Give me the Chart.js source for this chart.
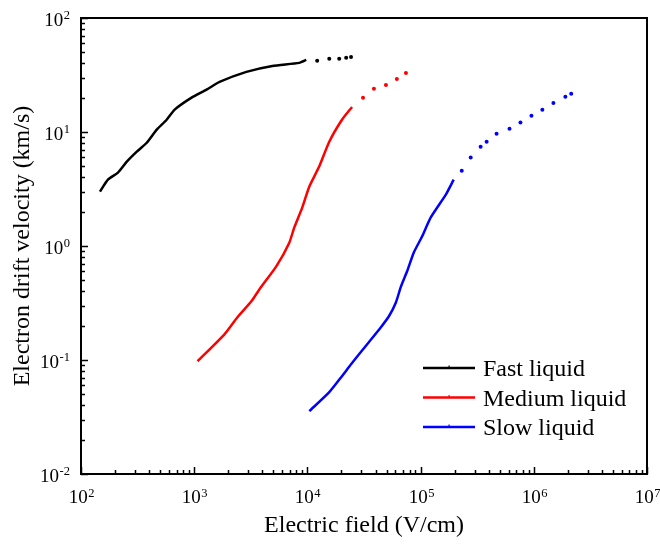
<!DOCTYPE html>
<html>
<head>
<meta charset="utf-8">
<script src="https://cdn.jsdelivr.net/npm/chart.js@4.4.1/dist/chart.umd.min.js"></script>
<style>
  html, body { margin: 0; padding: 0; background: #fff; }
</style>
</head>
<body>
<canvas id="chart" width="660" height="544"></canvas>
<script>
// Electric field (V/cm) and drift velocity (km/s), continuous traces
const fastE = [147, 173, 212, 254, 311, 381, 467, 571, 672, 948, 1285, 1675, 2890, 4900, 8470, 9770];
const fastV = [3.0, 3.82, 4.4, 5.49, 6.72, 8.05, 10.5, 12.8, 15.7, 20.0, 23.5, 27.5, 33.7, 38.0, 40.4, 42.9];
const mediumE = [1070, 1850, 2410, 3200, 3760, 5310, 6920, 7650, 9000, 10400, 12700, 15600, 20200, 24800];
const mediumV = [0.0975, 0.168, 0.237, 0.327, 0.416, 0.662, 1.07, 1.45, 2.17, 3.32, 4.97, 8.22, 12.8, 16.6];
const slowE = [10400, 15600, 20200, 24300, 33600, 44600, 52500, 60500, 67000, 76000, 87100, 103000, 123000, 167000, 196000];
const slowV = [0.0356, 0.0522, 0.0721, 0.0918, 0.137, 0.194, 0.242, 0.32, 0.44, 0.6, 0.877, 1.21, 1.78, 2.82, 3.82];

// sparse high-field points
const fastDotsE = [12200, 15600, 19100, 22000, 24300];
const fastDotsV = [42.1, 43.8, 43.8, 44.7, 45.6];
const mediumDotsE = [31000, 38700, 49400, 61700, 74200];
const mediumDotsV = [20.0, 23.9, 25.9, 29.2, 33.0];
const slowDotsE = [231000, 277000, 339000, 383000, 469000, 610000, 762000, 953000, 1190000, 1490000, 1900000, 2140000];
const slowDotsV = [4.58, 5.96, 7.43, 8.22, 9.66, 10.7, 12.1, 13.9, 15.7, 18.0, 20.4, 21.6];

const seriesNames = ['Fast liquid', 'Medium liquid', 'Slow liquid'];
const seriesColors = ['#000000', '#ff0000', '#0000ff'];

const xRange = [1e2, 1e7];
const yRange = [1e-2, 1e2];

const SERIF = '"Liberation Serif", "Times New Roman", serif';

const isDecade = v => Math.abs(Math.log10(v) - Math.round(Math.log10(v))) < 1e-9;

// 1..9 x 10^n ticks between the axis limits
function logTicks(min, max) {
  const out = [];
  for (let e = Math.round(Math.log10(min)); e < Math.round(Math.log10(max)); e++) {
    for (let m = 1; m <= 9; m++) out.push({ value: m * Math.pow(10, e) });
  }
  out.push({ value: max });
  return out;
}

// "10" with a raised exponent; align is 'center' or 'right'
function powerText(ctx, exp, x, baseline, align) {
  ctx.font = '19px ' + SERIF;
  const wb = ctx.measureText('10').width;
  ctx.font = '12.5px ' + SERIF;
  const es = String(exp);
  const we = ctx.measureText(es).width;
  const total = wb + we + 0.5;
  const x0 = align === 'right' ? x - total : x - total / 2;
  ctx.textAlign = 'left';
  ctx.textBaseline = 'alphabetic';
  ctx.font = '19px ' + SERIF;
  ctx.fillText('10', x0, baseline);
  ctx.font = '12.5px ' + SERIF;
  ctx.fillText(es, x0 + wb + 0.5, baseline - 6.5);
}

const pts = (xs, ys) => xs.map((x, i) => ({ x, y: ys[i] }));

const traces = [[fastE, fastV], [mediumE, mediumV], [slowE, slowV]];
const dots = [[fastDotsE, fastDotsV], [mediumDotsE, mediumDotsV], [slowDotsE, slowDotsV]];

const datasets = [];
seriesNames.forEach((name, i) => {
  datasets.push({
    label: name,
    data: pts(traces[i][0], traces[i][1]),
    borderColor: seriesColors[i],
    backgroundColor: seriesColors[i],
    borderWidth: 2.5,
    pointRadius: 0,
    tension: 0.2
  });
  datasets.push({
    label: name + ' (sparse)',
    data: pts(dots[i][0], dots[i][1]),
    showLine: false,
    pointRadius: 2,
    pointBorderWidth: 0,
    pointBackgroundColor: seriesColors[i],
    borderColor: seriesColors[i]
  });
});

// box frame, inward tick marks, power-of-ten labels and the legend
const frameAndLegend = {
  id: 'frameAndLegend',
  afterDatasetsDraw(chart) {
    const { ctx, chartArea: a, scales: { x, y } } = chart;
    ctx.save();
    ctx.strokeStyle = '#000';
    ctx.fillStyle = '#000';
    ctx.lineWidth = 1.5;
    x.ticks.forEach(t => {
      const px = Math.round(x.getPixelForValue(t.value)) + 0.5;
      const len = isDecade(t.value) ? 7 : 4;
      ctx.beginPath();
      ctx.moveTo(px, a.bottom);
      ctx.lineTo(px, a.bottom - len);
      ctx.stroke();
      if (isDecade(t.value)) powerText(ctx, Math.round(Math.log10(t.value)), px, a.bottom + 29, 'center');
    });
    y.ticks.forEach(t => {
      const py = Math.round(y.getPixelForValue(t.value)) + 0.5;
      const len = isDecade(t.value) ? 7 : 4;
      ctx.beginPath();
      ctx.moveTo(a.left, py);
      ctx.lineTo(a.left + len, py);
      ctx.stroke();
      if (isDecade(t.value)) powerText(ctx, Math.round(Math.log10(t.value)), a.left - 11, py + 7, 'right');
    });
    ctx.lineWidth = 2;
    ctx.strokeRect(a.left, a.top, a.right - a.left, a.bottom - a.top);

    // legend
    ctx.font = '24px ' + SERIF;
    ctx.textAlign = 'left';
    ctx.textBaseline = 'alphabetic';
    seriesNames.forEach((name, i) => {
      const ly = 368 + i * 29.5;
      ctx.strokeStyle = seriesColors[i];
      ctx.lineWidth = 2.5;
      ctx.beginPath();
      ctx.moveTo(423, ly);
      ctx.lineTo(475, ly);
      ctx.stroke();
      ctx.fillStyle = seriesColors[i];
      ctx.fillRect(448.5, ly - 2.5, 1.2, 3);
      ctx.fillStyle = '#000';
      ctx.fillText(name, 483, ly + 8);
    });
    ctx.restore();
  }
};

new Chart(document.getElementById('chart'), {
  type: 'line',
  data: { datasets },
  options: {
    responsive: false,
    animation: false,
    layout: { padding: { top: 18, right: 13, left: 0, bottom: 0 } },
    plugins: {
      legend: { display: false },
      tooltip: { enabled: false }
    },
    scales: {
      x: {
        type: 'logarithmic',
        min: xRange[0],
        max: xRange[1],
        afterBuildTicks: s => { s.ticks = logTicks(xRange[0], xRange[1]); },
        afterFit: s => { s.height = 70; s.paddingLeft = 0; s.paddingRight = 0; },
        grid: { display: false, drawTicks: false },
        border: { display: false },
        ticks: { display: false, autoSkip: false },
        title: {
          display: true,
          text: 'Electric field (V/cm)',
          color: '#000',
          font: { family: SERIF, size: 24 },
          padding: { top: 0, bottom: 4 }
        }
      },
      y: {
        type: 'logarithmic',
        min: yRange[0],
        max: yRange[1],
        afterBuildTicks: s => { s.ticks = logTicks(yRange[0], yRange[1]); },
        afterFit: s => { s.width = 81; s.paddingTop = 0; s.paddingBottom = 0; },
        grid: { display: false, drawTicks: false },
        border: { display: false },
        ticks: { display: false, autoSkip: false },
        title: {
          display: true,
          text: 'Electron drift velocity (km/s)',
          color: '#000',
          font: { family: SERIF, size: 24 },
          padding: { top: 8, bottom: 0 }
        }
      }
    }
  },
  plugins: [frameAndLegend]
});
</script>
</body>
</html>
